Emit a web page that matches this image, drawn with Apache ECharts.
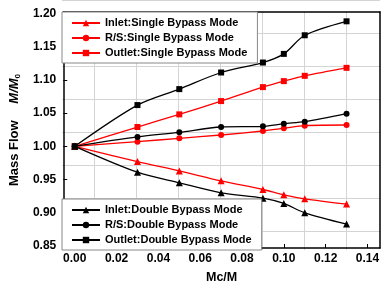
<!DOCTYPE html>
<html>
<head>
<meta charset="utf-8">
<script src="https://cdn.jsdelivr.net/npm/echarts@6/dist/echarts.min.js"></script>
<style>
  html, body { margin: 0; padding: 0; background: #fff; }
  #chart { width: 392px; height: 289px; }
</style>
</head>
<body>
<div id="chart"></div>
<script>
// Mc/M values shared by every curve
const mcM = [0, 0.03, 0.05, 0.07, 0.09, 0.10, 0.11, 0.13];

// M/M0
const inletSingle  = [1.000, 0.977, 0.963, 0.948, 0.935, 0.927, 0.921, 0.913];
const rsSingle     = [1.000, 1.007, 1.012, 1.017, 1.023, 1.027, 1.031, 1.032];
const outletSingle = [1.000, 1.029, 1.048, 1.068, 1.089, 1.098, 1.106, 1.118];
const inletDouble  = [1.000, 0.961, 0.945, 0.930, 0.922, 0.914, 0.900, 0.883];
const rsDouble     = [1.000, 1.014, 1.021, 1.029, 1.030, 1.034, 1.037, 1.049];
const outletDouble = [1.000, 1.062, 1.086, 1.111, 1.126, 1.139, 1.167, 1.188];

const xTicks = [0, 0.02, 0.04, 0.06, 0.08, 0.10, 0.12, 0.14];
const yTicks = [0.85, 0.90, 0.95, 1.00, 1.05, 1.10, 1.15, 1.20];

const singleNames = ['Inlet:Single Bypass Mode', 'R/S:Single Bypass Mode', 'Outlet:Single Bypass Mode'];
const doubleNames = ['Inlet:Double Bypass Mode', 'R/S:Double Bypass Mode', 'Outlet:Double Bypass Mode'];

const FONT = '"Liberation Sans", Arial, sans-serif';
const X_MIN = -0.0055, X_MAX = 0.146;
const Y_MIN = 0.847, Y_MAX = 1.202;

// plot box in pixels
const W = 392, H = 289;
const L = 62, R = 380, T = 12, B = 250;
const pxPerX = (R - L) / (X_MAX - X_MIN);
const pxPerY = (B - T) / (Y_MAX - Y_MIN);

// the grid sits half a step off the ticks (0.01, 0.03 ... / 0.875, 0.925 ...)
// it is drawn by helper axes shifted by half a step so their own ticks land there
const X_SHIFT = 0.01, Y_SHIFT = 0.025;
const gxMin = -0.01 + X_SHIFT, gxMax = 0.15 + X_SHIFT;   // 0 .. 0.16
const gyMin = 0.825 - Y_SHIFT, gyMax = 1.225 - Y_SHIFT;  // 0.80 .. 1.20

const pair = arr => mcM.map((x, i) => [x, arr[i]]);

function line(name, arr, color, symbol) {
  return {
    name: name,
    type: 'line',
    z: 3,
    data: pair(arr),
    smooth: 0.3,
    symbol: symbol,
    symbolSize: symbol === 'triangle' ? 7 : 6,
    lineStyle: { color: color, width: 1.3 },
    itemStyle: { color: color },
    emphasis: { disabled: true }
  };
}

const legendBase = {
  orient: 'vertical',
  left: 62,
  itemWidth: 28,
  itemHeight: 8,
  itemGap: 1,
  padding: [4, 10, 3, 9],
  backgroundColor: '#fff',
  borderColor: '#888',
  borderWidth: 1,
  textStyle: { fontFamily: FONT, fontWeight: 'bold', fontSize: 11, color: '#000', lineHeight: 14 },
  selectedMode: false
};

const axisFont = { fontFamily: FONT, fontWeight: 'bold', fontSize: 12, color: '#000' };
const gridLine = { color: '#d4d4d4', type: 'solid', width: 1 };
const hidden = { axisLine: { show: false }, axisTick: { show: false }, axisLabel: { show: false } };

const chart = echarts.init(document.getElementById('chart'));
chart.setOption({
  animation: false,
  backgroundColor: '#fff',
  grid: [
    { left: L, top: T, right: W - R, bottom: H - B },
    // vertical grid lines: same height as the plot, wider in x
    { left: L - (X_MIN + 0.01) * pxPerX, right: W - R - (0.15 - X_MAX) * pxPerX, top: T, bottom: H - B, z: 0 },
    // horizontal grid lines: same width as the plot, taller in y
    { left: L, right: W - R, top: T - (1.225 - Y_MAX) * pxPerY, bottom: H - B - (Y_MIN - 0.825) * pxPerY, z: 0 }
  ],
  legend: [
    Object.assign({}, legendBase, { data: singleNames, top: 12 }),
    Object.assign({}, legendBase, { data: doubleNames, bottom: 39 })
  ],
  xAxis: [
    {
      type: 'value', gridIndex: 0, min: X_MIN, max: X_MAX, z: 2,
      name: 'Mc/M', nameLocation: 'middle', nameGap: 23,
      nameTextStyle: Object.assign({}, axisFont, { fontSize: 12.5 }),
      axisLine: { onZero: false, lineStyle: { color: '#000', width: 1.5 } },
      axisTick: { inside: true, length: 4, customValues: xTicks, lineStyle: { color: '#000' } },
      axisLabel: Object.assign({ customValues: xTicks, margin: 5, formatter: v => v.toFixed(2) }, axisFont),
      splitLine: { show: false }
    },
    {
      type: 'value', gridIndex: 0, min: X_MIN, max: X_MAX, position: 'top', z: 2,
      axisLine: { show: true, onZero: false, lineStyle: { color: '#000', width: 1.5 } },
      axisTick: { show: false },
      axisLabel: { show: false },
      splitLine: { show: false }
    },
    Object.assign({
      type: 'value', gridIndex: 1, min: gxMin, max: gxMax, interval: 0.02,
      splitLine: { show: true, showMinLine: false, showMaxLine: false, lineStyle: gridLine }
    }, hidden),
    Object.assign({
      type: 'value', gridIndex: 2, min: X_MIN, max: X_MAX, splitLine: { show: false }
    }, hidden)
  ],
  yAxis: [
    {
      type: 'value', gridIndex: 0, min: Y_MIN, max: Y_MAX, z: 2,
      name: '{a|Mass Flow}     {b|M/M}{c|0}',
      nameLocation: 'middle', nameGap: 34,
      nameTextStyle: {
        rich: {
          a: { fontFamily: FONT, fontWeight: 'bold', fontSize: 13, color: '#000' },
          b: { fontFamily: FONT, fontWeight: 'bold', fontStyle: 'italic', fontSize: 13, color: '#000' },
          c: { fontFamily: FONT, fontWeight: 'bold', fontSize: 8, color: '#000', padding: [7, 0, 0, 0] }
        }
      },
      axisLine: { onZero: false, lineStyle: { color: '#000', width: 1.5 } },
      axisTick: { inside: true, length: 4, customValues: yTicks, lineStyle: { color: '#000' } },
      axisLabel: Object.assign({ customValues: yTicks, margin: 7, formatter: v => v.toFixed(2) }, axisFont),
      splitLine: { show: false }
    },
    {
      type: 'value', gridIndex: 0, min: Y_MIN, max: Y_MAX, position: 'right', z: 2,
      axisLine: { show: true, onZero: false, lineStyle: { color: '#000', width: 1.5 } },
      axisTick: { show: false },
      axisLabel: { show: false },
      splitLine: { show: false }
    },
    Object.assign({
      type: 'value', gridIndex: 1, min: Y_MIN, max: Y_MAX, splitLine: { show: false }
    }, hidden),
    Object.assign({
      type: 'value', gridIndex: 2, min: gyMin, max: gyMax, interval: 0.05,
      splitLine: { show: true, showMinLine: false, showMaxLine: false, lineStyle: gridLine }
    }, hidden)
  ],
  series: [
    line(singleNames[0], inletSingle, '#ff0000', 'triangle'),
    line(singleNames[1], rsSingle, '#ff0000', 'circle'),
    line(singleNames[2], outletSingle, '#ff0000', 'rect'),
    line(doubleNames[0], inletDouble, '#000', 'triangle'),
    line(doubleNames[1], rsDouble, '#000', 'circle'),
    line(doubleNames[2], outletDouble, '#000', 'rect')
  ]
});
</script>
</body>
</html>
